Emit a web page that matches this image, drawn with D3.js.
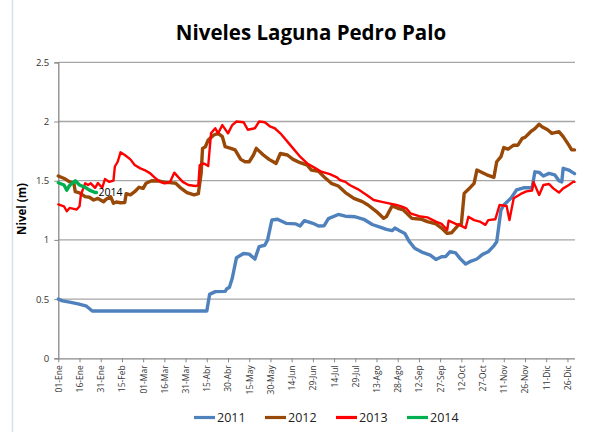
<!DOCTYPE html>
<html><head><meta charset="utf-8">
<script src="https://cdn.jsdelivr.net/npm/d3@7"></script>
<style>body{margin:0;background:#fff}svg{display:block}</style>
</head><body>
<svg id="c" width="602" height="432"></svg>
<script>
const tickLabels = ["01-Ene","16-Ene","31-Ene","15-Feb","01-Mar","16-Mar","31-Mar","15-Abr","30-Abr","15-May","30-May","14-Jun","29-Jun","14-Jul","29-Jul","13-Ago","28-Ago","12-Sep","27-Sep","12-Oct","27-Oct","11-Nov","26-Nov","11-Dic","26-Dic"];
const yTicks = [0,0.5,1,1.5,2,2.5];
const seriesNames = ["2011","2012","2013","2014"];
const seriesColors = ["#4F81BD","#984807","#FF0000","#00B050"];

const days2011 = [0,3,8,14,20,24,105,107,111,118,119,121,123,126,131,135,139,142,146,148,151,155,161,168,171,174,180,184,188,191,198,203,210,216,222,228,232,236,238,241,245,248,252,258,263,267,271,274,277,281,284,288,291,296,300,304,308,310,313,315,320,324,329,335,337,340,343,347,351,354,356,357,361,363,365];
const vals2011 = [0.50,0.485,0.475,0.46,0.44,0.40,0.40,0.54,0.563,0.565,0.585,0.60,0.676,0.85,0.885,0.88,0.838,0.943,0.955,1.0,1.168,1.174,1.14,1.135,1.118,1.163,1.14,1.118,1.12,1.18,1.215,1.2,1.195,1.174,1.13,1.106,1.089,1.078,1.1,1.08,1.055,0.99,0.929,0.892,0.872,0.835,0.858,0.86,0.9,0.89,0.844,0.796,0.816,0.839,0.878,0.9,0.95,0.985,1.252,1.295,1.351,1.422,1.44,1.44,1.575,1.57,1.54,1.562,1.55,1.5,1.49,1.605,1.59,1.575,1.56];

const days2012 = [0,5,8,11,12,15,19,22,25,28,32,34,37,39,41,44,47,48,51,54,57,60,62,66,71,76,79,83,86,91,96,99,101,102,104,106,110,113,116,118,122,125,129,132,135,138,140,145,149,152,154,157,162,166,171,176,179,184,189,193,198,203,209,215,219,225,230,232,236,240,244,250,257,261,267,271,275,278,283,285,287,290,294,296,300,303,308,310,313,315,318,322,325,328,330,334,337,340,342,346,349,354,357,361,363,365];
const vals2012 = [1.54,1.514,1.49,1.478,1.407,1.398,1.365,1.36,1.337,1.35,1.323,1.346,1.365,1.309,1.32,1.314,1.315,1.39,1.38,1.407,1.444,1.435,1.478,1.5,1.498,1.484,1.484,1.478,1.444,1.4,1.38,1.39,1.562,1.773,1.787,1.844,1.886,1.9,1.872,1.787,1.773,1.76,1.68,1.66,1.66,1.717,1.773,1.717,1.68,1.66,1.646,1.73,1.717,1.68,1.652,1.632,1.59,1.58,1.52,1.478,1.455,1.4,1.35,1.323,1.295,1.239,1.182,1.197,1.286,1.267,1.253,1.182,1.174,1.155,1.135,1.1,1.055,1.06,1.127,1.135,1.393,1.427,1.478,1.59,1.567,1.55,1.528,1.66,1.703,1.78,1.766,1.8,1.8,1.858,1.866,1.914,1.94,1.977,1.956,1.93,1.9,1.914,1.872,1.8,1.76,1.76];

const days2013 = [0,4,6,8,13,15,16,19,21,23,26,28,31,33,36,39,40,42,44,47,51,54,58,61,65,68,72,75,79,82,85,88,92,97,99,100,103,106,108,111,113,116,120,123,126,131,134,139,142,146,150,153,157,162,166,171,176,182,186,192,197,199,203,206,212,218,223,228,233,239,243,246,249,255,261,267,271,275,276,281,285,288,290,294,298,302,304,309,312,317,319,322,327,331,335,336,340,343,347,350,354,357,361,364,365];
const vals2013 = [1.3,1.284,1.242,1.27,1.256,1.284,1.383,1.478,1.464,1.478,1.44,1.48,1.44,1.514,1.49,1.5,1.62,1.66,1.74,1.717,1.68,1.632,1.604,1.59,1.562,1.528,1.49,1.478,1.49,1.568,1.528,1.49,1.464,1.455,1.46,1.632,1.646,1.624,1.9,1.943,1.9,1.97,1.9,1.97,2.0,1.994,1.93,1.943,2.0,1.994,1.956,1.943,1.9,1.83,1.773,1.703,1.646,1.604,1.576,1.556,1.528,1.506,1.49,1.464,1.427,1.38,1.337,1.323,1.31,1.295,1.28,1.267,1.225,1.2,1.19,1.155,1.135,1.084,1.163,1.135,1.118,1.1,1.195,1.167,1.155,1.127,1.167,1.174,1.295,1.286,1.167,1.351,1.388,1.41,1.417,1.49,1.38,1.464,1.472,1.435,1.4,1.435,1.464,1.49,1.49];

const days2014 = [0,4,6,8,12,15,19,22,26,27];
const vals2014 = [1.483,1.464,1.42,1.46,1.5,1.464,1.444,1.42,1.4,1.4];

const svg = d3.select("#c");
const x = d3.scaleLinear().domain([0,365]).range([58.3,574.5]);
const y = d3.scaleLinear().domain([0,2.5]).range([358.3,62.3]);

// frame line
svg.append("line").attr("x1",12.5).attr("x2",12.5).attr("y1",0).attr("y2",432)
  .attr("stroke","#d8e0ea").attr("stroke-width",1.5);

// title
svg.append("text").attr("x",311).attr("y",40).attr("text-anchor","middle")
  .attr("font-family","Open Sans, sans-serif").attr("font-weight","bold").attr("font-size",20.5)
  .attr("fill","#000").text("Niveles Laguna Pedro Palo");

// gridlines
svg.append("g").selectAll("line").data(yTicks.filter(d=>d>0)).join("line")
  .attr("x1",x(0)).attr("x2",575).attr("y1",d=>y(d)).attr("y2",d=>y(d))
  .attr("stroke","#a6a6a6").attr("stroke-width",1.3);

// y axis
const yAxis = d3.axisLeft(y).tickValues(yTicks).tickSize(4).tickFormat(d3.format("~g"));
const gy = svg.append("g").attr("transform",`translate(${x(0)},0)`).call(yAxis);
gy.select(".domain").attr("stroke","#888").attr("stroke-width",1.3);
gy.selectAll(".tick line").attr("stroke","#888");
gy.selectAll("text").attr("font-family","Open Sans, sans-serif").attr("font-size",9.5).attr("fill","#333").attr("x",-9);

// x axis
const tickDays = tickLabels.map((d,i)=>i*15);
const xAxis = d3.axisBottom(x).tickValues(tickDays).tickSize(4).tickFormat((d,i)=>tickLabels[i]);
const gx = svg.append("g").attr("transform",`translate(0,${y(0)})`).call(xAxis);
gx.select(".domain").attr("stroke","#888").attr("stroke-width",1.3).attr("d",`M${x(0)},0.5H575`);
gx.selectAll(".tick line").attr("stroke","#888");
gx.selectAll("text").attr("font-family","Open Sans, sans-serif").attr("font-size",8.5).attr("fill","#333")
  .attr("transform","rotate(-90)").attr("text-anchor","end").attr("x",-7).attr("y",0).attr("dy","0.35em");

// y label
svg.append("text").attr("transform","translate(26,209) rotate(-90)").attr("text-anchor","middle")
  .attr("font-family","Open Sans, sans-serif").attr("font-weight","bold").attr("font-size",11.5)
  .attr("fill","#000").text("Nivel (m)");

// lines
const allDays = [days2011,days2012,days2013,days2014];
const allVals = [vals2011,vals2012,vals2013,vals2014];
const widths = [3.4,3.4,2.4,3.4];
const line = d3.line().x(d=>x(d[0])).y(d=>y(d[1]));
[0,1,2,3].forEach(i=>{
  const data = allDays[i].map((d,j)=>[d,allVals[i][j]]);
  svg.append("path").datum(data).attr("d",line).attr("fill","none")
    .attr("stroke",seriesColors[i]).attr("stroke-width",widths[i])
    .attr("stroke-linejoin","round").attr("stroke-linecap","round");
});

// 2014 data label
svg.append("text").attr("x",x(27)+2).attr("y",y(1.4)+3)
  .attr("font-family","Open Sans, sans-serif").attr("font-size",10.5).attr("fill","#000").text("2014");

// legend
const legX = [194,265,336,407];
const lg = svg.append("g");
seriesNames.forEach((n,i)=>{
  lg.append("line").attr("x1",legX[i]).attr("x2",legX[i]+21).attr("y1",417.5).attr("y2",417.5)
    .attr("stroke",seriesColors[i]).attr("stroke-width",3.2);
  lg.append("text").attr("x",legX[i]+23).attr("y",422).attr("font-family","Open Sans, sans-serif")
    .attr("font-size",12.5).attr("fill","#222").text(n);
});
</script>
</body></html>
